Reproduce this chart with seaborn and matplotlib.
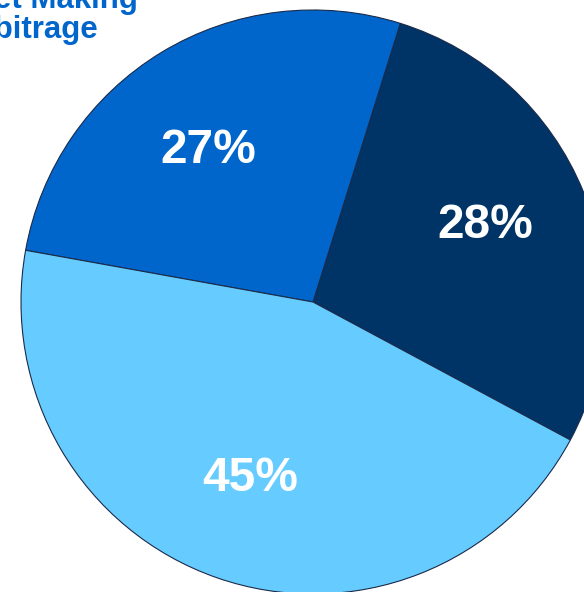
import matplotlib
matplotlib.use("Agg")
import matplotlib.pyplot as plt
import numpy as np
import seaborn as sns

# data
segments = ["Segment A", "Market Making / Arbitrage", "Segment C"]
shares = [28, 27, 45]
colors = ["#003366", "#0066CC", "#66CCFF"]
caption = "Market Making\nArbitrage"

sns.set_theme(style="white")
plt.rcParams['font.family'] = ['Liberation Sans', 'DejaVu Sans']

fig = plt.figure(figsize=(5.84, 5.92), dpi=100)
# pie circle: centre (313, 302) px, radius 292 px
ax = fig.add_axes([21 / 584, -2 / 592, 584 / 584, 584 / 592])

wedges, texts, autotexts = ax.pie(
    shares, colors=colors, startangle=-28.2, counterclock=True,
    radius=1.0, pctdistance=0.64,
    autopct=lambda p: f"{p:.0f}%",
    wedgeprops=dict(edgecolor="#1a2a4a", linewidth=0.8),
    textprops=dict(color="white", fontsize=34.5, fontweight="bold"))

# nudge the percent labels to where the reference puts them
label_pos = [(0.65, 25), (0.64, 124), (0.63, 250)]
for t, (r, a) in zip(autotexts, label_pos):
    t.set_position((r * np.cos(np.radians(a)),
                    r * np.sin(np.radians(a)) - 0.013))

ax.set_xlim(-1, 1)
ax.set_ylim(-1, 1)
ax.set_aspect("equal")
ax.axis("off")

fig.text(29 / 584, 1 - 38 / 592, caption, ha="center", va="baseline",
         color="#0066CC", fontsize=22.5, fontweight="bold", linespacing=0.98)

fig.savefig("out.png", dpi=100)
